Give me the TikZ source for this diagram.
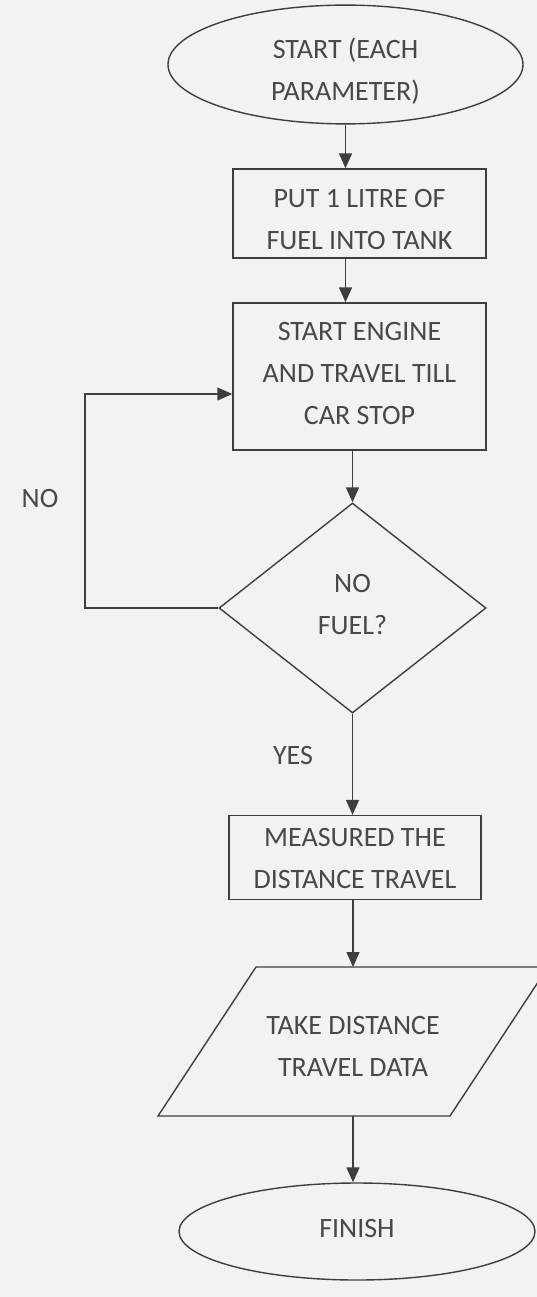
\documentclass[tikz,border=0pt]{standalone}
\usepackage{fontspec}
\setmainfont{Carlito}
\usetikzlibrary{shapes.geometric,arrows.meta}
\definecolor{bg}{RGB}{242,242,242}
\definecolor{ln}{RGB}{62,62,62}
\definecolor{tx}{RGB}{72,72,72}
\newcommand\shifttext[2]{\raisebox{#1}[\height][\depth]{\begin{tabular}{@{}c@{}}#2\end{tabular}}}
\begin{document}
\begin{tikzpicture}[x=1pt,y=-1pt,
  base/.style={draw=ln, line width=1.4pt, text=tx, font=\fontsize{28}{42}\selectfont, inner sep=0pt},
  term/.style={base, ellipse},
  proc/.style={base, rectangle},
  decis/.style={base, diamond},
  lbl/.style={text=tx, font=\fontsize{28}{42}\selectfont, inner sep=0pt},
  arr/.style={draw=ln, line width=1.4pt, -{Triangle[width=13pt,length=15pt]}}]
\fill[bg] (0,0) rectangle (537,1297);
\useasboundingbox (0,0) rectangle (537,1297);

\node[term, minimum width=355pt, minimum height=115pt] (start) at (345.5,64.5)
  {\shifttext{-7pt}{START (EACH\\PARAMETER)}};
\node[proc, minimum width=253pt, minimum height=89pt] (b1) at (359.5,213.5)
  {\shifttext{-7pt}{PUT 1 LITRE OF\\FUEL INTO TANK}};
\node[proc, minimum width=253pt, minimum height=147pt] (b2) at (359.5,376.5)
  {\shifttext{2pt}{START ENGINE\\AND TRAVEL TILL\\CAR STOP}};
\node[decis, minimum width=267pt, minimum height=210pt] (dec) at (352.5,608)
  {\shifttext{3pt}{NO\\FUEL?}};
\node[proc, minimum width=252pt, minimum height=79pt] (b3) at (355,857.5)
  {\shifttext{-2pt}{MEASURED THE\\DISTANCE TRAVEL}};
\node[base, draw=none, outer sep=0pt, minimum width=390pt, minimum height=149pt] (para) at (353,1041.5)
  {\shifttext{-6pt}{TAKE DISTANCE\\TRAVEL DATA}};
\draw[draw=ln, line width=1.4pt] ([xshift=98pt]para.north west) -- (para.north east)
  -- ([xshift=-98pt]para.south east) -- (para.south west) -- cycle;
\node[term, minimum width=356pt, minimum height=97pt] (fin) at (357,1231.5)
  {\shifttext{2pt}{FINISH}};

\node[lbl] (nolbl) at (40,499) {NO};
\node[lbl] (yeslbl) at (293,756) {YES};

\coordinate (lp) at (85,394);

\draw[arr] (start.south) -- (start.south |- b1.north);
\draw[arr] (b1.south -| start.south) -- (b2.north -| start.south);
\draw[arr] (b2.south -| dec.north) -- (dec.north);
\draw[arr] (dec.west) -| (lp) -- (lp -| b2.west);
\draw[arr] (dec.south) -- (dec.south |- b3.north);
\draw[arr] (b3.south -| para.north) -- (para.north);
\draw[arr] (para.south) -- (para.south |- fin.north);
\end{tikzpicture}
\end{document}
